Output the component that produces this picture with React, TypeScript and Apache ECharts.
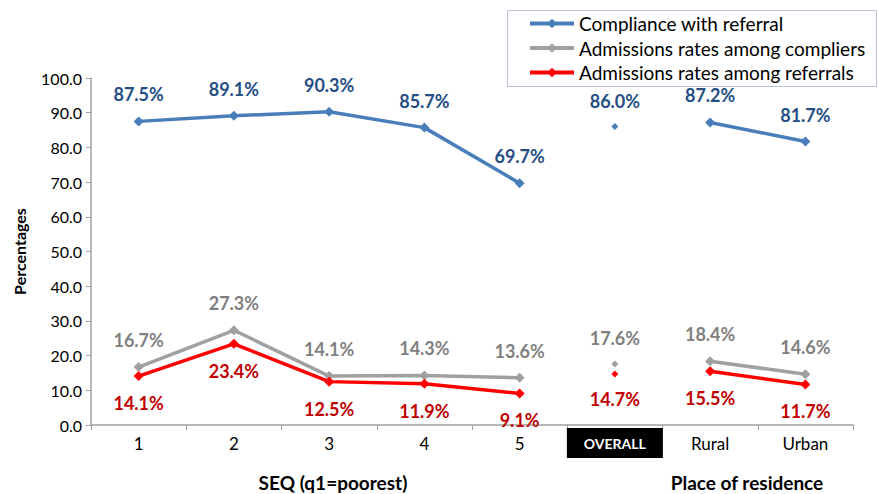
import React, { useEffect, useRef } from "react";
import * as echarts from "echarts";

const categories = ["1", "2", "3", "4", "5", "OVERALL", "Rural", "Urban"];
const compliance = [87.5, 89.1, 90.3, 85.7, 69.7, 86.0, 87.2, 81.7];
const admCompliers = [16.7, 27.3, 14.1, 14.3, 13.6, 17.6, 18.4, 14.6];
const admReferrals = [14.1, 23.4, 12.5, 11.9, 9.1, 14.7, 15.5, 11.7];
const yTicks = [0, 10, 20, 30, 40, 50, 60, 70, 80, 90, 100];

const FONT = "Lato";

function split(arr: number[]) {
  const seq = arr.map((v, i) => (i < 5 ? v : null));
  const ov = arr.map((v, i) => (i === 5 ? v : null));
  const res = arr.map((v, i) => (i > 5 ? v : null));
  return { seq, ov, res };
}

export default function App() {
  const ref = useRef<HTMLDivElement>(null);
  useEffect(() => {
    if (!ref.current) return;
    const chart = echarts.init(ref.current, null, { renderer: "svg" });
    const defs = [
      { name: "Compliance with referral", data: compliance, line: "#4a7ebb", label: "#254e85", pos: "top" },
      { name: "Admissions rates among compliers", data: admCompliers, line: "#a0a0a0", label: "#7f7f7f", pos: "top" },
      { name: "Admissions rates among referrals", data: admReferrals, line: "#ff0000", label: "#c00000", pos: "bottom" },
    ];
    const series: any[] = [];
    defs.forEach((d) => {
      const s = split(d.data);
      const mk = (data: (number | null)[], size: number) => ({
        type: "line",
        name: d.name,
        data,
        symbol: "diamond",
        symbolSize: size,
        showAllSymbol: true,
        lineStyle: { color: d.line, width: 3.5 },
        itemStyle: { color: d.line },
        label: {
          show: true,
          position: d.pos,
          distance: 13,
          color: d.label,
          fontFamily: FONT,
          fontWeight: "bold",
          fontSize: 18,
          formatter: (p: any) => (p.value == null ? "" : Number(p.value).toFixed(1) + "%"),
        },
      });
      series.push(mk(s.seq, 10));
      series.push(mk(s.ov, 7));
      series.push(mk(s.res, 10));
    });
    chart.setOption({
      animation: false,
      textStyle: { fontFamily: FONT },
      grid: { left: 91, right: 25, top: 78, bottom: 69 },
      legend: {
        orient: "vertical",
        left: 528,
        top: 14,
        itemWidth: 44,
        itemHeight: 12,
        itemGap: 5.5,
        padding: 0,
        lineStyle: { width: 4 },
        textStyle: { fontFamily: FONT, fontSize: 19, color: "#000" },
        data: defs.map((d) => d.name),
      },
      graphic: [
        {
          type: "rect",
          shape: { x: 507.5, y: 10.5, width: 369, height: 76 },
          style: { fill: "none", stroke: "#b8c4d6", lineWidth: 1 },
          z: 0,
        },
        {
          type: "text",
          style: {
            text: "SEQ (q1=poorest)",
            x: 333,
            y: 482,
            align: "center",
            verticalAlign: "middle",
            font: `bold 19px ${FONT}`,
            fill: "#000",
          },
        },
        {
          type: "text",
          style: {
            text: "Place of residence",
            x: 747,
            y: 482,
            align: "center",
            verticalAlign: "middle",
            font: `bold 19px ${FONT}`,
            fill: "#000",
          },
        },
      ],
      xAxis: {
        type: "category",
        data: categories,
        boundaryGap: true,
        axisLine: { lineStyle: { color: "#a0a0a0", width: 1.5 } },
        axisTick: { show: true, interval: 0, length: 5, lineStyle: { color: "#a0a0a0" } },
        axisLabel: {
          interval: 0,
          margin: 3,
          fontSize: 17,
          fontFamily: FONT,
          color: "#000",
          formatter: (v: string) => (v === "OVERALL" ? `{ov|${v}}` : `{n|${v}}`),
          rich: {
            n: { fontFamily: FONT, fontSize: 17, color: "#000", height: 30, lineHeight: 30 },
            ov: {
              fontFamily: FONT,
              fontSize: 14,
              fontWeight: "bold",
              color: "#fff",
              backgroundColor: "#000",
              width: 96,
              height: 30,
              lineHeight: 30,
              align: "center",
            },
          },
        },
      },
      yAxis: {
        type: "value",
        min: 0,
        max: 100,
        interval: 10,
        name: "Percentages",
        nameLocation: "middle",
        nameGap: 64,
        nameTextStyle: { fontFamily: FONT, fontWeight: "bold", fontSize: 16, color: "#000" },
        splitLine: { show: false },
        axisLine: { show: true, lineStyle: { color: "#a0a0a0", width: 1.5 } },
        axisTick: { show: true, length: 5, lineStyle: { color: "#a0a0a0" } },
        axisLabel: {
          fontFamily: FONT,
          fontSize: 16,
          color: "#000",
          margin: 9,
          formatter: (v: number) => (yTicks.includes(v) ? v.toFixed(1) : ""),
        },
      },
      series,
    });
    return () => chart.dispose();
  }, []);
  return <div ref={ref} style={{ width: 878, height: 494, position: "absolute", left: 0, top: 0 }} />;
}
